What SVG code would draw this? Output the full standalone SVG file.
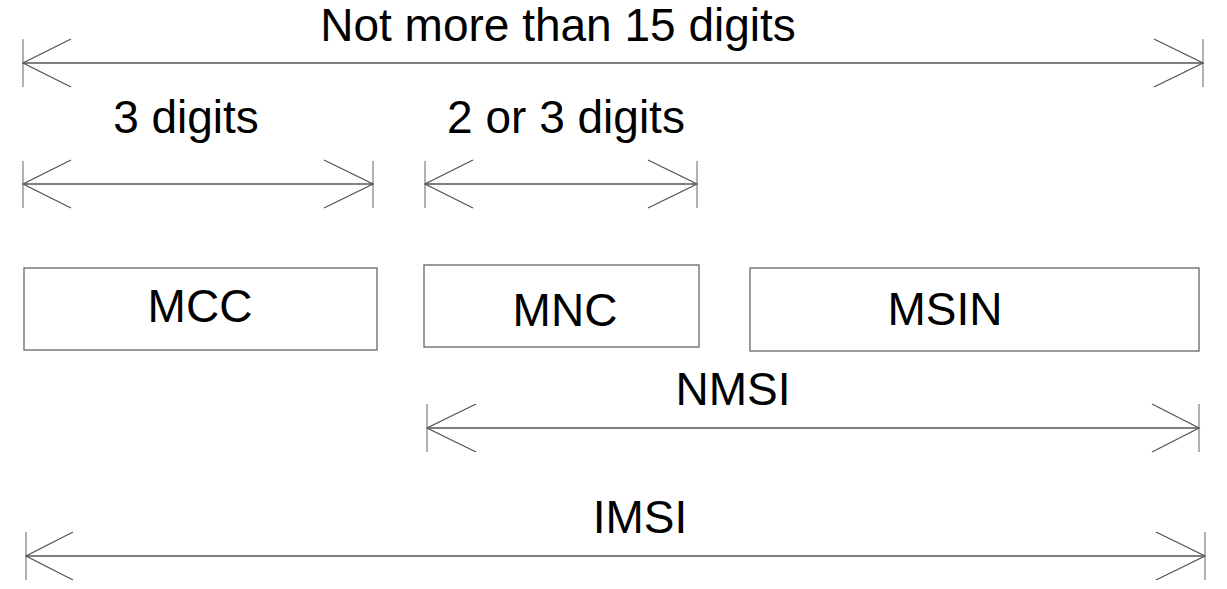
<svg xmlns="http://www.w3.org/2000/svg" width="1227" height="589" viewBox="0 0 1227 589">
<style>
.t{font-family:"Liberation Sans",Arial,sans-serif;font-size:46px;fill:#000;text-anchor:middle}
.ln{stroke:#555;stroke-width:1.3;fill:none}
.tk{stroke:#888;stroke-width:1.3;fill:none}
.bx{fill:#fff;stroke:#666;stroke-width:1.3}
</style>
<rect width="1227" height="589" fill="#fff"/>
<g id="connectors">
  <g id="dim-total">
    <line class="tk" x1="23" y1="39" x2="23" y2="87"/><line class="tk" x1="1203" y1="39" x2="1203" y2="87"/>
    <line class="ln" x1="23" y1="63" x2="1203" y2="63"/>
    <polyline class="ln" points="71,39 23,63 71,87"/><polyline class="ln" points="1154,39 1203,63 1154,87"/>
  </g>
  <g id="dim-mcc">
    <line class="tk" x1="23" y1="161" x2="23" y2="208"/><line class="tk" x1="373" y1="161" x2="373" y2="208"/>
    <line class="ln" x1="23" y1="184" x2="373" y2="184"/>
    <polyline class="ln" points="71,160 23,184 71,208"/><polyline class="ln" points="324,160 373,184 324,208"/>
  </g>
  <g id="dim-mnc">
    <line class="tk" x1="425" y1="161" x2="425" y2="208"/><line class="tk" x1="697" y1="161" x2="697" y2="208"/>
    <line class="ln" x1="425" y1="184" x2="697" y2="184"/>
    <polyline class="ln" points="473,160 425,184 473,208"/><polyline class="ln" points="648,160 697,184 648,208"/>
  </g>
  <g id="dim-nmsi">
    <line class="tk" x1="427" y1="404" x2="427" y2="452"/><line class="tk" x1="1199" y1="404" x2="1199" y2="452"/>
    <line class="ln" x1="427" y1="428" x2="1199" y2="428"/>
    <polyline class="ln" points="476,404 427,428 476,452"/><polyline class="ln" points="1152,404 1199,428 1152,452"/>
  </g>
  <g id="dim-imsi">
    <line class="tk" x1="26" y1="532" x2="26" y2="580"/><line class="tk" x1="1205" y1="532" x2="1205" y2="580"/>
    <line class="ln" x1="26" y1="556" x2="1205" y2="556"/>
    <polyline class="ln" points="73,532 26,556 73,580"/><polyline class="ln" points="1156,532 1205,556 1156,580"/>
  </g>
</g>
<g id="label-total"><text class="t" x="558" y="41">Not more than 15 digits</text></g>
<g id="label-3digits"><text class="t" x="186" y="133">3 digits</text></g>
<g id="label-2or3"><text class="t" x="566" y="133">2 or 3 digits</text></g>
<g id="node-mcc"><rect class="bx" x="24" y="268" width="353" height="82"/><text class="t" x="200" y="322">MCC</text></g>
<g id="node-mnc"><rect class="bx" x="424" y="265" width="275" height="82"/><text class="t" x="565" y="326">MNC</text></g>
<g id="node-msin"><rect class="bx" x="750" y="268" width="449" height="83"/><text class="t" x="945" y="325">MSIN</text></g>
<g id="label-nmsi"><text class="t" x="733" y="405">NMSI</text></g>
<g id="label-imsi"><text class="t" x="640" y="533">IMSI</text></g>
</svg>
